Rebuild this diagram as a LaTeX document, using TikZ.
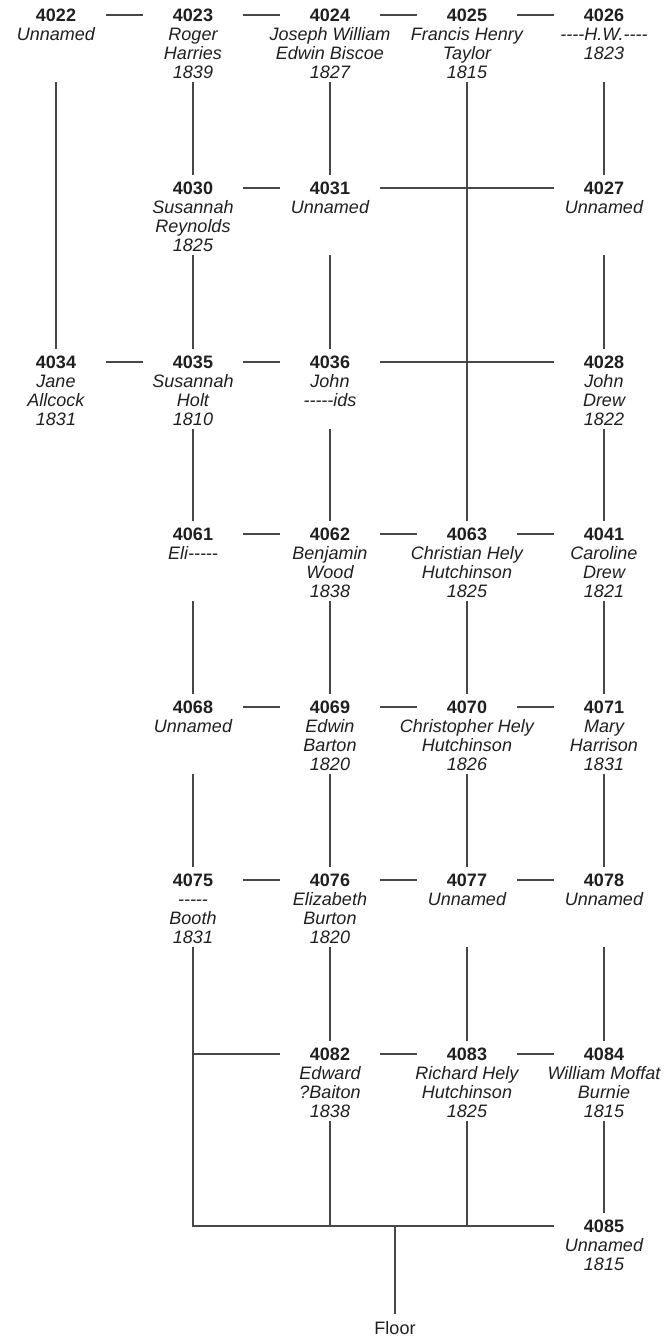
\documentclass[tikz,border=0pt]{standalone}
\usepackage{fontspec}
\setmainfont{Liberation Sans}
\usetikzlibrary{calc}
\def\hy{\mbox{-}}
\newcommand\pers[4]{%
  \coordinate (c#1) at (#2,#3);
  \node[num] (n#1) at (c#1) {#1};
  \node[nm] (t#1) at ([yshift=-11.45pt]c#1) {\rule{0pt}{14pt}#4};
}
\newcommand\hlink[2]{\draw[link] ([xshift=50pt]c#1) -- ([xshift=-50pt]c#2);}
\newcommand\vlink[2]{\draw[link] ([yshift=-67pt]c#1) -- ([yshift=13pt]c#2);}
\begin{document}
\begin{tikzpicture}[x=1pt,y=-1pt,
  num/.style={inner sep=0pt, font=\fontsize{18}{19}\selectfont\bfseries, text=black!88},
  nm/.style={anchor=north, align=center, inner sep=0pt, font=\fontsize{18}{19}\selectfont\itshape, text=black!88},
  link/.style={draw=black!72, line width=1.2pt}]
\useasboundingbox (0,0) rectangle (667,1339);
% row 1
\pers{4022}{56}{15}{Unnamed}
\pers{4023}{193}{15}{Roger\\Harries\\1839}
\pers{4024}{330}{15}{Joseph William\\Edwin Biscoe\\1827}
\pers{4025}{467}{15}{Francis Henry\\Taylor\\1815}
\pers{4026}{604}{15}{\hy\hy\hy\hy H.W.\hy\hy\hy\hy\\1823}
% row 2
\pers{4030}{193}{188}{Susannah\\Reynolds\\1825}
\pers{4031}{330}{188}{Unnamed}
\pers{4027}{604}{188}{Unnamed}
% row 3
\pers{4034}{56}{362}{Jane\\Allcock\\1831}
\pers{4035}{193}{362}{Susannah\\Holt\\1810}
\pers{4036}{330}{362}{John\\\hy\hy\hy\hy\hy ids}
\pers{4028}{604}{362}{John\\Drew\\1822}
% row 4
\pers{4061}{193}{534}{Eli\hy\hy\hy\hy\hy}
\pers{4062}{330}{534}{Benjamin\\Wood\\1838}
\pers{4063}{467}{534}{Christian Hely\\Hutchinson\\1825}
\pers{4041}{604}{534}{Caroline\\Drew\\1821}
% row 5
\pers{4068}{193}{707}{Unnamed}
\pers{4069}{330}{707}{Edwin\\Barton\\1820}
\pers{4070}{467}{707}{Christopher Hely\\Hutchinson\\1826}
\pers{4071}{604}{707}{Mary\\Harrison\\1831}
% row 6
\pers{4075}{193}{880}{\hy\hy\hy\hy\hy\\Booth\\1831}
\pers{4076}{330}{880}{Elizabeth\\Burton\\1820}
\pers{4077}{467}{880}{Unnamed}
\pers{4078}{604}{880}{Unnamed}
% row 7
\pers{4082}{330}{1054}{Edward\\?Baiton\\1838}
\pers{4083}{467}{1054}{Richard Hely\\Hutchinson\\1825}
\pers{4084}{604}{1054}{William Moffat\\Burnie\\1815}
% row 8
\pers{4085}{604}{1226}{Unnamed\\1815}
\coordinate (bl) at (193,1226);
\coordinate (fj) at (395,1226);
\node[inner sep=0pt, font=\fontsize{18}{19}\selectfont, text=black!88] (floor) at (395,1328) {Floor};
% horizontal links
\hlink{4022}{4023}\hlink{4023}{4024}\hlink{4024}{4025}\hlink{4025}{4026}
\hlink{4030}{4031}\hlink{4031}{4027}
\hlink{4034}{4035}\hlink{4035}{4036}\hlink{4036}{4028}
\hlink{4061}{4062}\hlink{4062}{4063}\hlink{4063}{4041}
\hlink{4068}{4069}\hlink{4069}{4070}\hlink{4070}{4071}
\hlink{4075}{4076}\hlink{4076}{4077}\hlink{4077}{4078}
\hlink{4082}{4083}\hlink{4083}{4084}
% vertical links
\vlink{4022}{4034}
\vlink{4023}{4030}\vlink{4030}{4035}\vlink{4035}{4061}\vlink{4061}{4068}\vlink{4068}{4075}
\vlink{4024}{4031}\vlink{4031}{4036}\vlink{4036}{4062}\vlink{4062}{4069}\vlink{4069}{4076}\vlink{4076}{4082}
\vlink{4025}{4063}\vlink{4063}{4070}\vlink{4070}{4077}\vlink{4077}{4083}
\vlink{4026}{4027}\vlink{4027}{4028}\vlink{4028}{4041}\vlink{4041}{4071}\vlink{4071}{4078}\vlink{4078}{4084}\vlink{4084}{4085}
% bottom junctions
\draw[link] ([yshift=-67pt]c4075) -- (bl) -- ([xshift=-50pt]c4085);
\draw[link] (c4075 |- c4082) -- ([xshift=-50pt]c4082);
\draw[link] ([yshift=-67pt]c4082) -- (c4082 |- bl);
\draw[link] ([yshift=-67pt]c4083) -- (c4083 |- bl);
\draw[link] (fj) -- ([yshift=7.5pt]floor.north);
\end{tikzpicture}
\end{document}
